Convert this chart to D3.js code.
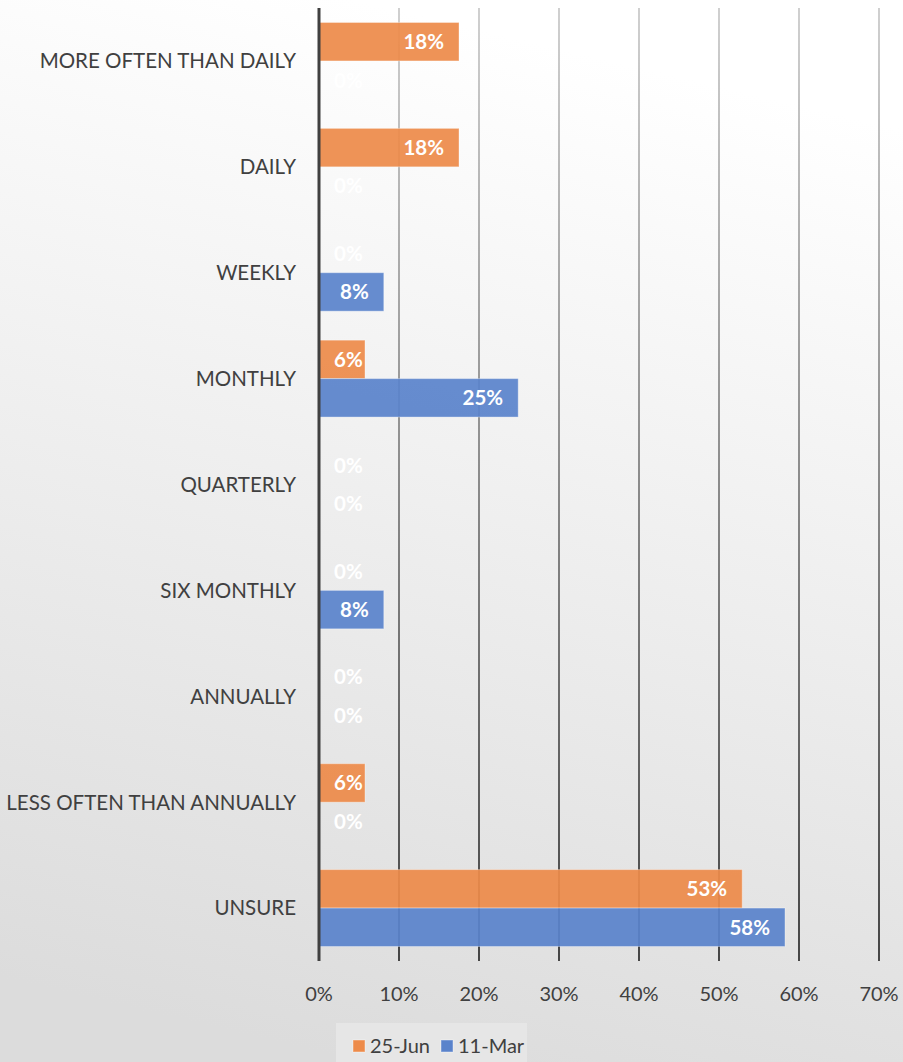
<!DOCTYPE html>
<html>
<head>
<meta charset="utf-8">
<script src="https://cdn.jsdelivr.net/npm/d3@7"></script>
<style>
  body { margin: 0; }
  svg { display: block; font-family: Lato, "Open Sans", sans-serif; }
</style>
</head>
<body>
<div id="container"></div>
<script>
/* CONSTANTS AND GLOBALS */
const width = 903,
  height = 1062,
  margin = { top: 8, bottom: 101, left: 319, right: 24 };

/* DATA */
const categories = ["MORE OFTEN THAN DAILY", "DAILY", "WEEKLY", "MONTHLY", "QUARTERLY",
  "SIX MONTHLY", "ANNUALLY", "LESS OFTEN THAN ANNUALLY", "UNSURE"];
const seriesNames = ["25-Jun", "11-Mar"];
const jun25 = [0.175, 0.175, 0, 0.0575, 0, 0, 0, 0.0575, 0.529];
const mar11 = [0, 0, 0.081, 0.249, 0, 0.081, 0, 0, 0.5825];
const jun25Labels = ["18%", "18%", "0%", "6%", "0%", "0%", "0%", "6%", "53%"];
const mar11Labels = ["0%", "0%", "8%", "25%", "0%", "8%", "0%", "0%", "58%"];
const xTicks = [0, 0.1, 0.2, 0.3, 0.4, 0.5, 0.6, 0.7];
const colors = ["#ED8B4A", "#5A83CB"];

const rows = categories.map((c, i) => ({
  cat: c,
  vals: [
    { s: seriesNames[0], v: jun25[i], label: jun25Labels[i] },
    { s: seriesNames[1], v: mar11[i], label: mar11Labels[i] }
  ]
}));

/* SCALES */
const xScale = d3.scaleLinear()
  .domain([0, 0.7])
  .range([margin.left, 879]);

const yScale = d3.scaleBand()
  .domain(categories)
  .range([margin.top, height - margin.bottom]);

const ySub = d3.scaleBand()
  .domain(seriesNames)
  .range([0, yScale.bandwidth()])
  .paddingOuter(0.377);

const colorScale = d3.scaleOrdinal()
  .domain(seriesNames)
  .range(colors);

/* SVG */
const svg = d3.select("#container")
  .append("svg")
  .attr("width", width)
  .attr("height", height);

const defs = svg.append("defs");
const bg = defs.append("linearGradient")
  .attr("id", "bg")
  .attr("x1", "0.6").attr("y1", "0")
  .attr("x2", "0.4").attr("y2", "1");
bg.append("stop").attr("offset", "4%").attr("stop-color", "#ffffff");
bg.append("stop").attr("offset", "100%").attr("stop-color", "#dcdcdc");

const gridGrad = defs.append("linearGradient")
  .attr("id", "gridGrad")
  .attr("gradientUnits", "userSpaceOnUse")
  .attr("x1", 0).attr("y1", margin.top)
  .attr("x2", 0).attr("y2", height - margin.bottom);
gridGrad.append("stop").attr("offset", "0%").attr("stop-color", "#c4c4c4");
gridGrad.append("stop").attr("offset", "100%").attr("stop-color", "#1e1e1e");

svg.append("rect")
  .attr("width", width)
  .attr("height", height)
  .attr("fill", "url(#bg)");

// gridlines
svg.append("g")
  .selectAll("line")
  .data(xTicks.slice(1))
  .join("line")
  .attr("x1", d => xScale(d))
  .attr("x2", d => xScale(d))
  .attr("y1", margin.top)
  .attr("y2", height - margin.bottom)
  .attr("stroke", "url(#gridGrad)")
  .attr("stroke-width", 1.6);

// bars
const groups = svg.append("g")
  .selectAll("g")
  .data(rows)
  .join("g")
  .attr("transform", d => `translate(0,${yScale(d.cat)})`);

groups.selectAll("rect")
  .data(d => d.vals)
  .join("rect")
  .attr("x", xScale(0))
  .attr("y", d => ySub(d.s))
  .attr("width", d => xScale(d.v) - xScale(0))
  .attr("height", ySub.bandwidth())
  .attr("fill", d => colorScale(d.s))
  .attr("fill-opacity", 0.93)
  .attr("stroke", "#ffffff")
  .attr("stroke-opacity", d => d.v > 0 ? 0.35 : 0)
  .attr("stroke-width", 1);

// data labels
groups.selectAll("text")
  .data(d => d.vals)
  .join("text")
  .attr("y", d => ySub(d.s) + ySub.bandwidth() / 2)
  .attr("dy", "0.36em")
  .attr("text-anchor", "end")
  .attr("fill", "#ffffff")
  .attr("font-weight", "bold")
  .attr("font-size", 20.5)
  .text(d => d.label)
  .attr("x", function(d) {
    const w = this.getComputedTextLength();
    return Math.max(xScale(d.v) - 15, xScale(0) + 15 + w);
  });

// axis line at 0
svg.append("line")
  .attr("x1", xScale(0)).attr("x2", xScale(0))
  .attr("y1", margin.top).attr("y2", height - margin.bottom)
  .attr("stroke", "#404040")
  .attr("stroke-width", 3);

// category labels
svg.append("g")
  .selectAll("text")
  .data(categories)
  .join("text")
  .attr("x", 296)
  .attr("y", d => yScale(d) + yScale.bandwidth() / 2)
  .attr("dy", "0.36em")
  .attr("text-anchor", "end")
  .attr("fill", "#404040")
  .attr("font-size", 20.5)
  .text(d => d);

// x tick labels
svg.append("g")
  .selectAll("text")
  .data(xTicks)
  .join("text")
  .attr("x", d => xScale(d))
  .attr("y", 994)
  .attr("dy", "0.36em")
  .attr("text-anchor", "middle")
  .attr("fill", "#404040")
  .attr("font-size", 20)
  .text(d => d3.format(".0%")(d));

// legend
const legend = svg.append("g");
legend.append("rect")
  .attr("x", 336).attr("y", 1023)
  .attr("width", 191).attr("height", 39)
  .attr("fill", "#e6e6e6");

const legendX = [353, 441];
const items = legend.selectAll("g")
  .data(seriesNames)
  .join("g")
  .attr("transform", (d, i) => `translate(${legendX[i]},1046)`);

items.append("rect")
  .attr("x", 0).attr("y", -6)
  .attr("width", 12).attr("height", 12)
  .attr("fill", d => colorScale(d))
  .attr("stroke", "#ffffff")
  .attr("stroke-opacity", 0.4);

items.append("text")
  .attr("x", 17)
  .attr("dy", "0.36em")
  .attr("fill", "#404040")
  .attr("font-size", 20)
  .text(d => d);
</script>
</body>
</html>
